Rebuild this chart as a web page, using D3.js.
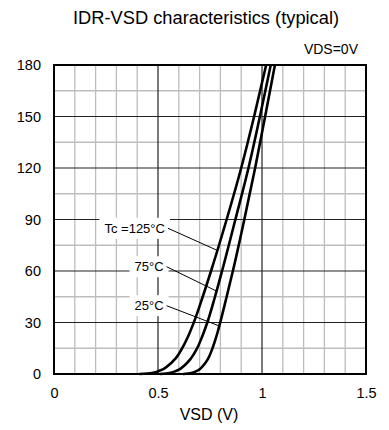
<!DOCTYPE html>
<html>
<head>
<meta charset="utf-8">
<script src="https://cdn.jsdelivr.net/npm/d3@7"></script>
<style>
  body { margin: 0; background: #fff; }
  svg { display: block; }
  text { font-family: "Liberation Sans", Arial, sans-serif; fill: #000; }
</style>
</head>
<body>
<svg id="chart" width="389" height="430"></svg>
<script>
// Reverse drain current levels (A) at which the forward voltage is tabulated
const currentLevels = [0, 0.6, 2, 5, 9, 15, 22, 30, 45, 60, 90, 120, 150, 180];
// Source-drain voltage (V) for each case temperature at the levels above
const vsdTc125 = [0.410, 0.470, 0.510, 0.550, 0.584, 0.616, 0.645, 0.672, 0.715, 0.755, 0.830, 0.900, 0.962, 1.020];
const vsdTc75  = [0.510, 0.555, 0.592, 0.627, 0.658, 0.688, 0.713, 0.737, 0.774, 0.808, 0.872, 0.935, 0.990, 1.042];
const vsdTc25  = [0.620, 0.660, 0.690, 0.718, 0.741, 0.762, 0.781, 0.799, 0.830, 0.860, 0.915, 0.967, 1.015, 1.062];

const seriesNames = ["Tc =125°C", "75°C", "25°C"];
// Label centres (V, A) and the current at which each leader meets its curve
const labelCenterV = [0.388, 0.457, 0.457];
const labelCenterI = [84.9, 62.5, 39.8];
const leaderHitI   = [72, 48.3, 28];

const xTickValues = [0, 0.5, 1, 1.5];
const xTickLabels = ["0", "0.5", "1", "1.5"];
const yTickValues = [0, 30, 60, 90, 120, 150, 180];

const svg = d3.select("#chart");
const W = 389, H = 430;
const margin = { left: 54, right: 23, top: 65, bottom: 56 };

const x = d3.scaleLinear().domain([0, 1.5]).range([margin.left, W - margin.right]);
const y = d3.scaleLinear().domain([0, 180]).range([H - margin.bottom, margin.top]);

// Minor grid every 0.1 V / 15 A
const minorX = d3.range(1, 15).map(k => k / 10).filter(v => Math.abs(v - 0.5) > 1e-6 && Math.abs(v - 1) > 1e-6);
const minorY = d3.range(15, 180, 30);

const grid = svg.append("g");
grid.selectAll("line.mx").data(minorX).join("line")
  .attr("x1", d => x(d)).attr("x2", d => x(d))
  .attr("y1", y(0)).attr("y2", y(180))
  .attr("stroke", "#bdbdbd").attr("stroke-width", 1.3);
grid.selectAll("line.my").data(minorY).join("line")
  .attr("x1", x(0)).attr("x2", x(1.5))
  .attr("y1", d => y(d)).attr("y2", d => y(d))
  .attr("stroke", "#bdbdbd").attr("stroke-width", 1.3);

// Major grid
grid.selectAll("line.MX").data([0.5, 1]).join("line")
  .attr("x1", d => x(d)).attr("x2", d => x(d))
  .attr("y1", y(0)).attr("y2", y(180))
  .attr("stroke", "#222").attr("stroke-width", 1.2);
grid.selectAll("line.MY").data(yTickValues.filter(v => v > 0 && v < 180)).join("line")
  .attr("x1", x(0)).attr("x2", x(1.5))
  .attr("y1", d => y(d)).attr("y2", d => y(d))
  .attr("stroke", "#222").attr("stroke-width", 1.2);

// Axes (labels only, frame drawn separately)
const yAxis = d3.axisLeft(y).tickValues(yTickValues).tickSize(0).tickPadding(13).tickFormat(d3.format("d"));
svg.append("g").attr("transform", `translate(${margin.left},0)`).call(yAxis)
  .call(g => g.select(".domain").remove())
  .selectAll("text").style("font-size", "14.5px").style("font-family", "'Liberation Sans', Arial, sans-serif");

const xAxis = d3.axisBottom(x).tickValues(xTickValues).tickSize(0).tickPadding(14)
  .tickFormat((d, i) => xTickLabels[i]);
svg.append("g").attr("transform", `translate(0,${H - margin.bottom})`).call(xAxis)
  .call(g => g.select(".domain").remove())
  .selectAll("text").style("font-size", "14.5px").style("font-family", "'Liberation Sans', Arial, sans-serif");

// Plot frame
svg.append("rect")
  .attr("x", x(0)).attr("y", y(180))
  .attr("width", x(1.5) - x(0)).attr("height", y(0) - y(180))
  .attr("fill", "none").attr("stroke", "#000").attr("stroke-width", 2);

// Curves
const series = [vsdTc125, vsdTc75, vsdTc25].map(vs => vs.map((v, k) => ({ v, i: currentLevels[k] })));
const line = d3.line().x(d => x(d.v)).y(d => y(d.i)).curve(d3.curveMonotoneY);

function vAt(pts, cur) {
  for (let k = 1; k < pts.length; k++) {
    if (cur <= pts[k].i) {
      const a = pts[k - 1], b = pts[k];
      return a.v + (b.v - a.v) * (cur - a.i) / (b.i - a.i);
    }
  }
  return pts[pts.length - 1].v;
}

// Labels with white backing and leader lines
const lab = svg.append("g");
series.forEach((pts, s) => {
  const t = lab.append("text")
    .attr("x", x(labelCenterV[s])).attr("y", y(labelCenterI[s]))
    .attr("text-anchor", "middle").attr("dominant-baseline", "central")
    .style("font-size", "13px").text(seriesNames[s]);
  const bb = t.node().getBBox();
  lab.insert("rect", "text")
    .attr("x", bb.x - 5).attr("y", bb.y - 3)
    .attr("width", bb.width + 10).attr("height", bb.height + 6)
    .attr("fill", "#fff");
  lab.append("line")
    .attr("x1", bb.x + bb.width + 3).attr("y1", y(labelCenterI[s]))
    .attr("x2", x(vAt(pts, leaderHitI[s]))).attr("y2", y(leaderHitI[s]))
    .attr("stroke", "#000").attr("stroke-width", 1);
});

svg.append("g").selectAll("path").data(series).join("path")
  .attr("d", line)
  .attr("fill", "none").attr("stroke", "#000").attr("stroke-width", 2.6)
  .attr("stroke-linejoin", "round");

// Titles
svg.append("text").attr("x", 206).attr("y", 23.5).attr("text-anchor", "middle")
  .style("font-size", "18.3px").text("IDR-VSD characteristics (typical)");
svg.append("text").attr("x", 358).attr("y", 54).attr("text-anchor", "end")
  .style("font-size", "14px").text("VDS=0V");
svg.append("text").attr("x", 209).attr("y", 420).attr("text-anchor", "middle")
  .style("font-size", "16px").text("VSD (V)");
</script>
</body>
</html>
